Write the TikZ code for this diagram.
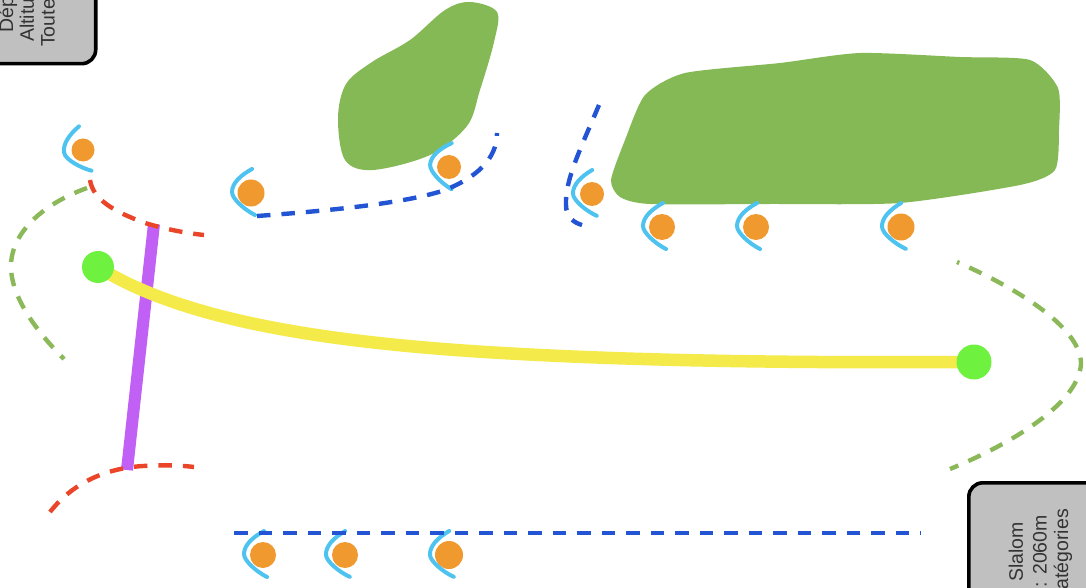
\documentclass[tikz,border=0pt]{standalone}
\usepackage{fontspec}
\setmainfont{Liberation Sans}
\usetikzlibrary{backgrounds}
\definecolor{blob}{HTML}{85B956}
\definecolor{dotor}{HTML}{F0992F}
\definecolor{fanb}{HTML}{4FC3F0}
\definecolor{dblue}{HTML}{2354D3}
\definecolor{dred}{HTML}{EA4429}
\definecolor{dgreen}{HTML}{8BB95A}
\definecolor{lift}{HTML}{C060F5}
\definecolor{piste}{HTML}{F4EA4A}
\definecolor{lime}{HTML}{6EF23F}
\definecolor{panel}{HTML}{C0C0C0}
\tikzset{
  x=1pt,y=-1pt,
  forest/.style={fill=blob,draw=none},
  spectator/.style={circle,fill=dotor,draw=none,inner sep=0pt,minimum size=#1},
  fanline/.style={draw=fanb,line width=4pt,line cap=round},
  fence/.style={line width=4.4pt,dash pattern=on 13.5pt off 11pt},
  bluefence/.style={fence,draw=dblue},
  redfence/.style={fence,draw=dred},
  greenfence/.style={fence,draw=dgreen},
  gate/.style={circle,fill=lime,draw=none,inner sep=0pt,minimum size=#1},
  infobox/.style={draw=black,line width=3.6pt,fill=panel,rounded corners=14pt},
  infotext/.style={rotate=90,font=\fontsize{19.5}{23}\selectfont,text=black!80,inner sep=0pt},
}
\newcommand{\fan}[5]{%
  \node[spectator=#4] (#1) at (#2,#3) {};
  \draw[fanline,shift={(#2,#3)},rotate=#5] (1,-24) .. controls (-10,-18) and (-19,-10) .. (-19,-1) .. controls (-19,6) and (-6,17) .. (4,22);
}
\begin{document}
\begin{tikzpicture}
\useasboundingbox (0,0) rectangle (1086,588);
\clip (0,0) rectangle (1086,588);
\draw[forest] plot[smooth cycle,tension=0.55] coordinates {(470,2) (497,12) (494,42) (480,90) (467,126) (430,155) (373,170) (345,160) (338,118) (346,84) (372,62) (410,40) (445,10)};
\draw[forest] plot[smooth cycle,tension=0.4] coordinates {(685,73) (780,63) (860,53) (960,57) (1030,60) (1058,88) (1059,130) (1055,170) (1020,185) (900,203) (770,204) (650,204) (620,197) (611,180) (625,140) (645,95)};

\fan{s1}{83}{150}{23pt}{12}
\fan{s2}{251}{193}{27pt}{0}
\fan{s3}{449}{167}{24pt}{-4}
\fan{s4}{592}{194}{24pt}{2}
\fan{s5}{662}{227}{26pt}{0}
\fan{s6}{756}{227}{26pt}{0}
\fan{s7}{901}{227}{27pt}{2}
\fan{s8}{263}{555}{26pt}{0}
\fan{s9}{345}{555}{26pt}{2}
\fan{s10}{449}{555}{28pt}{2}

\node[gate=32pt] (g1) at (98,267) {};
\node[gate=35pt] (g2) at (974,362) {};
\coordinate (lt) at (154,224);
\coordinate (lb) at (127,470);

\draw[redfence] (50,512) .. controls (75,480) and (110,468) .. (143,466) .. controls (160,465) and (178,465) .. (194,467);
\begin{scope}[on background layer]
\draw[lift,line width=12pt] (lt) -- (lb);
\draw[piste,line width=12.5pt] (g1.center) .. controls (190,325) and (350,345) .. (520,354) .. controls (650,361) and (800,363) .. (g2.center);
\end{scope}

\draw[bluefence] (234,533) -- (921,533);
\draw[bluefence] (257,216) .. controls (340,210) and (410,202) .. (445,190) .. controls (475,178) and (497,160) .. (497,133);
\draw[bluefence] (599,105) .. controls (580,150) and (565,180) .. (566,205) .. controls (566,218) and (575,223) .. (582,225);
\draw[redfence] (90,180) .. controls (93,200) and (115,212) .. (145,223) .. controls (165,229) and (185,233) .. (204,235);
\draw[greenfence] (87,188) .. controls (40,205) and (10,235) .. (11,268) .. controls (12,300) and (40,335) .. (64,359);
\draw[greenfence,dash phase=11pt] (957,262) .. controls (1010,285) and (1080,325) .. (1081,363) .. controls (1080,400) and (1020,440) .. (950,469);

\node[infobox,anchor=south east,minimum width=140pt,minimum height=100pt] (b1) at (97.5,65.5) {};
\node[infobox,anchor=north west,minimum width=160pt,minimum height=150pt] (b2) at (967,481) {};
\node[infotext,anchor=west] (t1) at (8,33) {Dép};
\node[infotext,anchor=west] (t2) at (27,42) {Altitu};
\node[infotext,anchor=west] (t3) at (48,47) {Toute};
\node[infotext,anchor=east] (t4) at (1016,522) {Slalom};
\node[infotext,anchor=east] (t5) at (1040,515) {: 2060m};
\node[infotext,anchor=east] (t6) at (1063,509) {atégories};
\end{tikzpicture}
\end{document}
